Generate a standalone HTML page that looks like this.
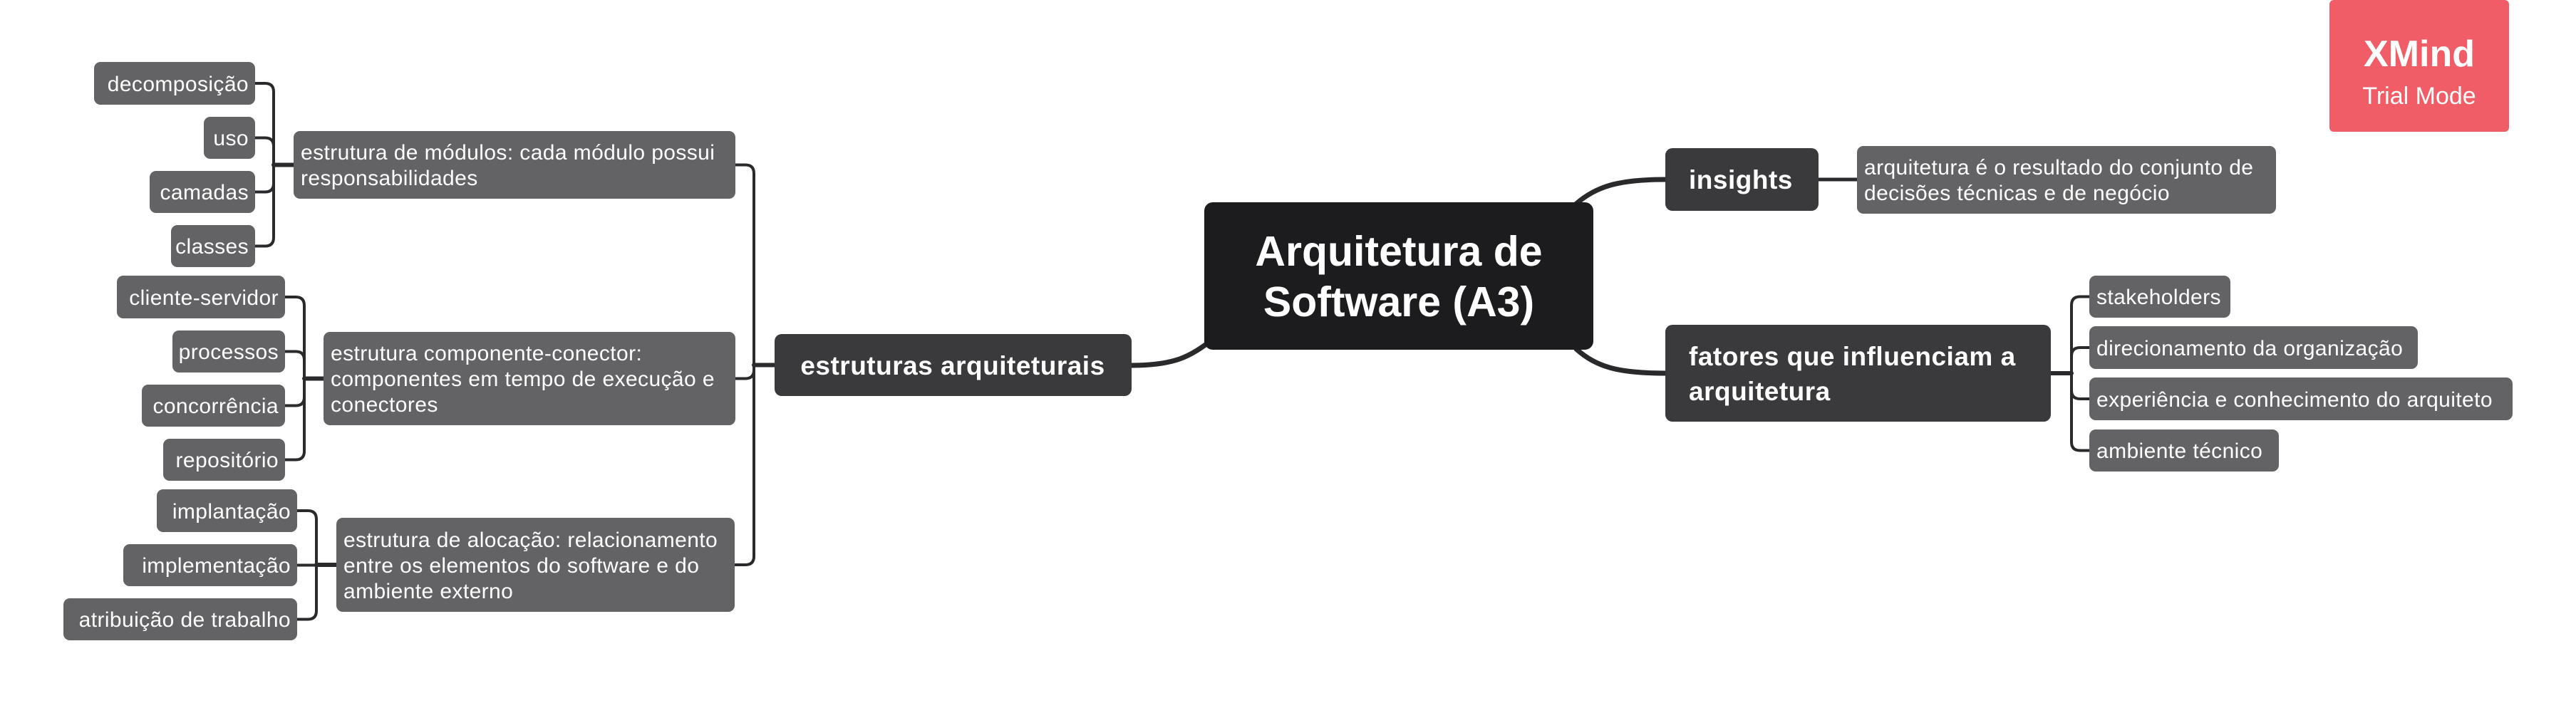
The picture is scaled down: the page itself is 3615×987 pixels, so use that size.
<!DOCTYPE html>
<html><head><meta charset="utf-8"><style>
html,body{margin:0;padding:0;background:#fff;}
svg{display:block;}
text{font-family:"Liberation Sans",sans-serif;fill:#fff;}
.c{font-size:30px;letter-spacing:0.4px;}
.m{font-size:37px;font-weight:bold;letter-spacing:0.5px;}
</style></head><body>
<svg width="3615" height="987" viewBox="0 0 3615 987" xmlns="http://www.w3.org/2000/svg">
<g fill="none" stroke="#2a2a2c" stroke-linecap="round">
<path d="M1588,513 C1650,513 1670,500 1700,478" stroke-width="7"/>
<path d="M2212,286 C2240,262 2270,252 2337,252" stroke-width="7"/>
<path d="M2212,490 C2240,515 2270,524 2337,524" stroke-width="7"/>
<path d="M1032,231.5 H1046 Q1058,231.5 1058,243.5 V781 Q1058,793 1046,793 H1032" stroke-width="4"/>
<path d="M1032,531.5 H1046 Q1058,531.5 1058,519.5" stroke-width="4"/>
<path d="M1058,512.5 H1087" stroke-width="6"/>
<path d="M358,117 H372 Q384,117 384,129 V333.5 Q384,345.5 372,345.5 H358" stroke-width="4"/>
<path d="M358,193.5 H372 Q384,193.5 384,205.5 M358,269.5 H372 Q384,269.5 384,257.5" stroke-width="4"/>
<path d="M384,231.5 H412" stroke-width="6"/>
<path d="M400,417 H415 Q427,417 427,429 V633.5 Q427,645.5 415,645.5 H400" stroke-width="4"/>
<path d="M400,493.5 H415 Q427,493.5 427,505.5 M400,569.5 H415 Q427,569.5 427,557.5" stroke-width="4"/>
<path d="M427,531.5 H454" stroke-width="6"/>
<path d="M417,717 H432 Q444,717 444,729 V857.5 Q444,869.5 432,869.5 H417" stroke-width="4"/>
<path d="M417,793.5 H444" stroke-width="4"/>
<path d="M444,793 H472" stroke-width="6"/>
<path d="M2552,252 H2606" stroke-width="5"/>
<path d="M2932,416.5 H2919 Q2907,416.5 2907,428.5 V620.5 Q2907,632.5 2919,632.5 H2932" stroke-width="4"/>
<path d="M2932,488 H2919 Q2907,488 2907,500 M2932,560 H2919 Q2907,560 2907,548" stroke-width="4"/>
<path d="M2878,524 H2907" stroke-width="6"/>
</g>
<rect x="1690" y="284" width="546" height="207" rx="12" fill="#1c1c1e"/>
<text x="1963" y="373" text-anchor="middle" style="font-size:59px;font-weight:bold">Arquitetura de</text>
<text x="1963" y="444" text-anchor="middle" style="font-size:59px;font-weight:bold">Software (A3)</text>
<rect x="1087" y="469" width="501" height="87" rx="10" fill="#3a3a3c"/>
<text x="1337" y="526" text-anchor="middle" class="m">estruturas arquiteturais</text>
<rect x="2337" y="208" width="215" height="88" rx="10" fill="#3a3a3c"/>
<text x="2370" y="265" class="m">insights</text>
<rect x="2337" y="456" width="541" height="136" rx="10" fill="#3a3a3c"/>
<text x="2370" y="513" class="m">fatores que influenciam a</text>
<text x="2370" y="562" class="m">arquitetura</text>
<g fill="#636366">
<rect x="2606" y="205" width="588" height="95" rx="9"/>
<rect x="2932" y="387" width="198" height="59" rx="9"/>
<rect x="2932" y="458" width="461" height="60" rx="9"/>
<rect x="2932" y="530" width="594" height="60" rx="9"/>
<rect x="2932" y="603" width="266" height="59" rx="9"/>
</g>
<text x="2616" y="245" class="c">arquitetura é o resultado do conjunto de</text>
<text x="2616" y="281" class="c">decisões técnicas e de negócio</text>
<text x="2942" y="427" class="c">stakeholders</text>
<text x="2942" y="499" class="c">direcionamento da organização</text>
<text x="2942" y="571" class="c">experiência e conhecimento do arquiteto</text>
<text x="2942" y="643" class="c">ambiente técnico</text>
<g fill="#636366">
<rect x="412" y="184" width="620" height="95" rx="9"/>
<rect x="454" y="466" width="578" height="131" rx="9"/>
<rect x="472" y="727" width="559" height="132" rx="9"/>
<rect x="132" y="87" width="226" height="60" rx="9"/>
<rect x="286" y="164" width="72" height="59" rx="9"/>
<rect x="210" y="240" width="148" height="59" rx="9"/>
<rect x="240" y="316" width="118" height="59" rx="9"/>
<rect x="164" y="387" width="236" height="60" rx="9"/>
<rect x="242" y="464" width="158" height="59" rx="9"/>
<rect x="199" y="540" width="201" height="59" rx="9"/>
<rect x="229" y="616" width="171" height="59" rx="9"/>
<rect x="220" y="687" width="197" height="60" rx="9"/>
<rect x="173" y="764" width="244" height="59" rx="9"/>
<rect x="89" y="840" width="328" height="59" rx="9"/>
</g>
<text x="422" y="224" class="c">estrutura de módulos: cada módulo possui</text>
<text x="422" y="260" class="c">responsabilidades</text>
<text x="464" y="506" class="c">estrutura componente-conector:</text>
<text x="464" y="542" class="c">componentes em tempo de execução e</text>
<text x="464" y="578" class="c">conectores</text>
<text x="482" y="768" class="c">estrutura de alocação: relacionamento</text>
<text x="482" y="804" class="c">entre os elementos do software e do</text>
<text x="482" y="840" class="c">ambiente externo</text>
<g text-anchor="end">
<text x="349" y="128" class="c">decomposição</text>
<text x="349" y="204" class="c">uso</text>
<text x="349" y="280" class="c">camadas</text>
<text x="349" y="356" class="c">classes</text>
<text x="391" y="428" class="c">cliente-servidor</text>
<text x="391" y="504" class="c">processos</text>
<text x="391" y="580" class="c">concorrência</text>
<text x="391" y="656" class="c">repositório</text>
<text x="408" y="728" class="c">implantação</text>
<text x="408" y="804" class="c">implementação</text>
<text x="408" y="880" class="c">atribuição de trabalho</text>
</g>
<rect x="3269" y="0" width="252" height="185" rx="6" fill="#f05d66"/>
<text x="3395" y="93" text-anchor="middle" style="font-size:52px;font-weight:bold">XMind</text>
<text x="3395" y="146" text-anchor="middle" style="font-size:34px">Trial Mode</text>
</svg>
</body></html>
